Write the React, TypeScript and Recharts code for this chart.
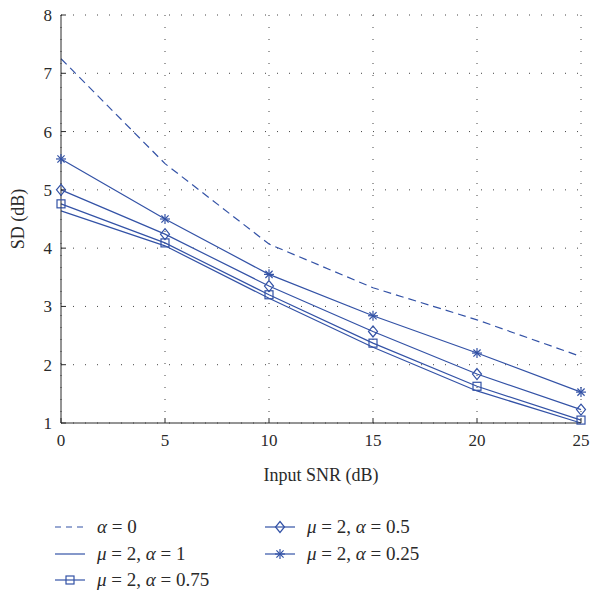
import { LineChart, Line, XAxis, YAxis, CartesianGrid } from "recharts";

const snr = [0, 5, 10, 15, 20, 25];
const alpha0 = [7.25, 5.45, 4.07, 3.32, 2.77, 2.14];
const mu2a1 = [4.64, 4.04, 3.14, 2.3, 1.55, 1.0];
const mu2a075 = [4.76, 4.09, 3.2, 2.37, 1.63, 1.05];
const mu2a05 = [5.0, 4.24, 3.35, 2.57, 1.84, 1.23];
const mu2a025 = [5.53, 4.5, 3.55, 2.84, 2.2, 1.53];
const xTicks = [0, 5, 10, 15, 20, 25];
const yTicks = [1, 2, 3, 4, 5, 6, 7, 8];

const data = snr.map((x, i) => ({
  x,
  a0: alpha0[i],
  a1: mu2a1[i],
  a075: mu2a075[i],
  a05: mu2a05[i],
  a025: mu2a025[i],
}));

const BLUE = "#3352a6";
const INK = "#2a2a2a";
const FONT = "'Liberation Serif', 'DejaVu Serif', serif";

const square = (cx: number, cy: number, key?: string) => (
  <rect key={key} x={cx - 4} y={cy - 4} width={8} height={8} fill="none" stroke={BLUE} strokeWidth={1.2} />
);
const diamond = (cx: number, cy: number, key?: string) => (
  <path key={key} d={`M${cx},${cy - 5.5}L${cx + 4.5},${cy}L${cx},${cy + 5.5}L${cx - 4.5},${cy}Z`} fill="none" stroke={BLUE} strokeWidth={1.2} />
);
const star = (cx: number, cy: number, key?: string) => (
  <g key={key} stroke={BLUE} strokeWidth={1.2}>
    <line x1={cx - 5} y1={cy} x2={cx + 5} y2={cy} />
    <line x1={cx} y1={cy - 5} x2={cx} y2={cy + 5} />
    <line x1={cx - 3.6} y1={cy - 3.6} x2={cx + 3.6} y2={cy + 3.6} />
    <line x1={cx - 3.6} y1={cy + 3.6} x2={cx + 3.6} y2={cy - 3.6} />
  </g>
);

const dotOf = (shape: typeof square, tag: string) => (p: any) => shape(p.cx, p.cy, `${tag}-${p.index}`);

const tickStyle = { fontSize: 17, fill: INK, fontFamily: FONT };

const legendRows = [
  { col: 0, row: 0, kind: "dash", label: <><i>α</i> = 0</> },
  { col: 0, row: 1, kind: "line", label: <><i>μ</i> = 2, <i>α</i> = 1</> },
  { col: 0, row: 2, kind: "square", label: <><i>μ</i> = 2, <i>α</i> = 0.75</> },
  { col: 1, row: 0, kind: "diamond", label: <><i>μ</i> = 2, <i>α</i> = 0.5</> },
  { col: 1, row: 1, kind: "star", label: <><i>μ</i> = 2, <i>α</i> = 0.25</> },
];

const LegendMark = ({ kind }: { kind: string }) => (
  <svg width={32} height={14} style={{ display: "block" }}>
    <line x1={1} y1={7} x2={31} y2={7} stroke={BLUE} strokeWidth={1.2} strokeDasharray={kind === "dash" ? "6 5" : undefined} />
    {kind === "square" && square(16, 7)}
    {kind === "diamond" && diamond(16, 7)}
    {kind === "star" && star(16, 7)}
  </svg>
);

export default function App() {
  return (
    <div style={{ position: "absolute", left: 0, top: 0, width: 592, height: 590, background: "#fff" }}>
      <LineChart width={592} height={590} data={data} margin={{ top: 15, right: 11, left: 11, bottom: 107 }}>
        <CartesianGrid stroke="#444" strokeDasharray="1 11" />
        <XAxis
          dataKey="x"
          type="number"
          domain={[0, 25]}
          ticks={xTicks}
          height={60}
          tickSize={-5}
          tickMargin={16}
          stroke={INK}
          tick={tickStyle}
          label={{
            content: (p: any) => {
              const vb = p.viewBox;
              return (
                <text x={vb.x + vb.width / 2} y={vb.y + 58} textAnchor="middle" fontSize={18} fill={INK} fontFamily={FONT}>
                  Input SNR (dB)
                </text>
              );
            },
          }}
        />
        <XAxis xAxisId="top" orientation="top" type="number" domain={[0, 25]} ticks={xTicks} height={0} tickSize={-5} tick={false} stroke={INK} />
        <YAxis
          type="number"
          domain={[1, 8]}
          ticks={yTicks}
          width={50}
          tickSize={-5}
          tickMargin={14}
          stroke={INK}
          tick={tickStyle}
          label={{
            content: (p: any) => {
              const vb = p.viewBox;
              const cx = vb.x + 7;
              const cy = vb.y + vb.height / 2;
              return (
                <text x={cx} y={cy} transform={`rotate(-90 ${cx} ${cy})`} textAnchor="middle" dominantBaseline="central" fontSize={18} fill={INK} fontFamily={FONT}>
                  SD (dB)
                </text>
              );
            },
          }}
        />
        <YAxis yAxisId="right" orientation="right" type="number" domain={[1, 8]} ticks={yTicks} width={0} tickSize={-5} tick={false} stroke={INK} />
        <Line dataKey="a0" stroke={BLUE} strokeWidth={1.2} strokeDasharray="8 5" dot={false} isAnimationActive={false} />
        <Line dataKey="a1" stroke={BLUE} strokeWidth={1.2} dot={false} isAnimationActive={false} />
        <Line dataKey="a075" stroke={BLUE} strokeWidth={1.2} dot={dotOf(square, "sq")} isAnimationActive={false} />
        <Line dataKey="a05" stroke={BLUE} strokeWidth={1.2} dot={dotOf(diamond, "dm")} isAnimationActive={false} />
        <Line dataKey="a025" stroke={BLUE} strokeWidth={1.2} dot={dotOf(star, "st")} isAnimationActive={false} />
      </LineChart>
      {legendRows.map((r, i) => (
        <div
          key={i}
          style={{
            position: "absolute",
            left: r.col === 0 ? 54 : 264,
            top: 516 + r.row * 26.5,
            display: "flex",
            alignItems: "center",
            height: 22,
            fontFamily: FONT,
            fontSize: 19,
            color: INK,
            whiteSpace: "nowrap",
          }}
        >
          <LegendMark kind={r.kind} />
          <span style={{ marginLeft: 11 }}>{r.label}</span>
        </div>
      ))}
    </div>
  );
}
